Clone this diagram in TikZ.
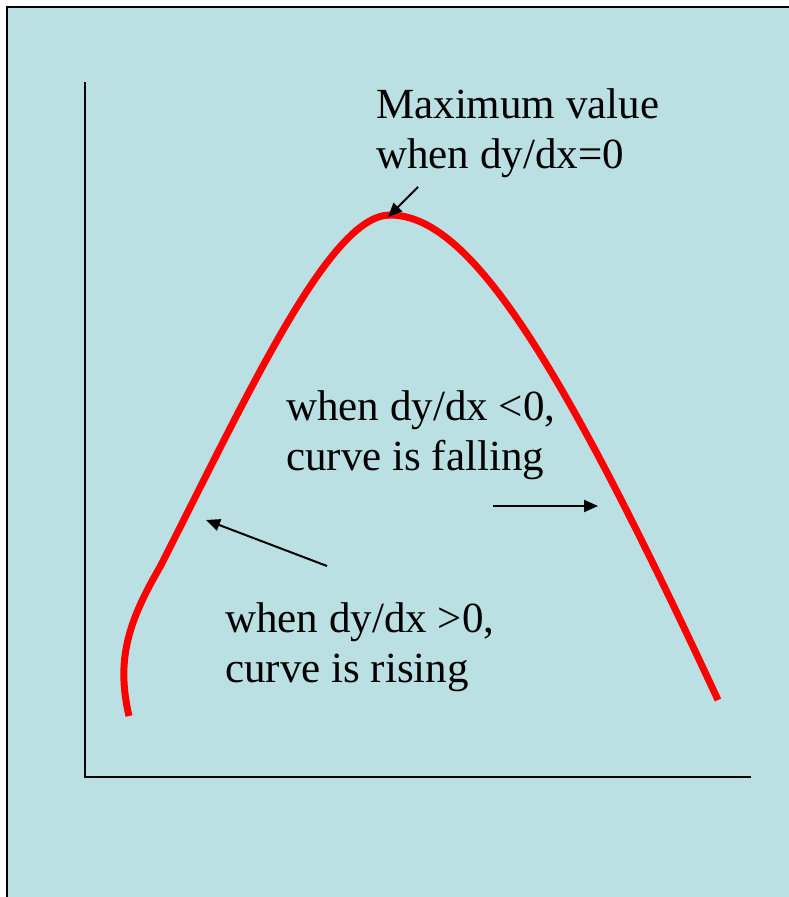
\documentclass[tikz,border=0pt]{standalone}
\usepackage{fontspec}
\setmainfont{Liberation Serif}
\usepackage{tikz}
\usetikzlibrary{arrows.meta}
\definecolor{dkbg}{HTML}{BAE0E3}
\definecolor{dkred}{HTML}{FF0000}
\definecolor{dkink}{HTML}{000000}

\begin{document}
\begin{tikzpicture}[x=1pt,y=-1pt,
  axisLine/.style={dkink,line width=2pt},
  pointer/.style={-{Triangle[length=14pt,width=12pt]},dkink,line width=2pt},
  caption/.style={anchor=base west,inner sep=0pt,align=left,text=dkink,
    font=\fontsize{43}{50}\selectfont},
  curveLine/.style={dkred,line width=7pt}
]
\useasboundingbox (0,0) rectangle (789,897);
\draw[fill=dkbg,line width=2pt] (7,7) rectangle (800,910);

% axes
\coordinate (yTop) at (85,82);
\coordinate (orig) at (85,777);
\coordinate (xEnd) at (751,777);
\draw[axisLine] (yTop) -- (orig) -- (xEnd);

% the curve
\draw[curveLine] (129,716) .. controls (116,660) and (128,622) .. (160,567)
  .. controls (250,390) and (330,215) .. (390,215)
  .. controls (470,215) and (560,360) .. (718,700);

% labels (base anchor sits on the last line)
\node[caption] (maxText) at (376,168) {Maximum value\\when dy/dx=0};
\node[caption] (fallText) at (286,470) {when dy/dx <0,\\curve is falling};
\node[caption] (riseText) at (225,682) {when dy/dx >0,\\curve is rising};

% pointers
\coordinate (maxTail) at (418,187);
\coordinate (peak) at (388,217);
\coordinate (fallTail) at (493,506);
\coordinate (fallHit) at (598,506);
\coordinate (riseTail) at (327,566);
\coordinate (riseHit) at (206,520);
\draw[pointer] (maxTail) -- (peak);
\draw[pointer] (fallTail) -- (fallHit);
\draw[pointer] (riseTail) -- (riseHit);
\end{tikzpicture}
\end{document}
